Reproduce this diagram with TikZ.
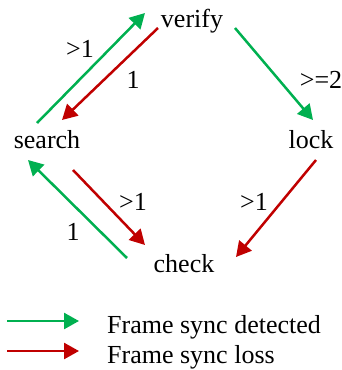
\documentclass[tikz,border=0pt]{standalone}
\usepackage{fontspec}
\setmainfont{Liberation Serif}
\usetikzlibrary{arrows.meta}
\definecolor{okgreen}{HTML}{00B050}
\definecolor{lossred}{HTML}{C00000}
\tikzset{
  lbl/.style={anchor=base,inner sep=0pt,font=\fontsize{26}{30}\selectfont},
  conn/.style={line width=2.5pt,-{Triangle[length=15pt,width=16pt]}},
  det/.style={conn,draw=okgreen,fill=okgreen},
  loss/.style={conn,draw=lossred,fill=lossred}
}
\begin{document}
\begin{tikzpicture}[x=1pt,y=-1pt]
\useasboundingbox (0,0) rectangle (342,370);
% states
\node[lbl] (verify) at (192,27) {verify};
\node[lbl] (search) at (47,148) {search};
\node[lbl] (lock) at (311,148) {lock};
\node[lbl] (check) at (184,272) {check};
% connector ends
\coordinate (sv0) at (37,123); \coordinate (sv1) at (145,13);
\coordinate (vs0) at (158,28); \coordinate (vs1) at (62,120);
\coordinate (vl0) at (235,28); \coordinate (vl1) at (313,120);
\coordinate (lc0) at (316,160); \coordinate (lc1) at (236,257);
\coordinate (sc0) at (73,170); \coordinate (sc1) at (145,245);
\coordinate (cs0) at (127,258); \coordinate (cs1) at (28,160);
\draw[det] (sv0) -- (sv1);
\draw[loss] (vs0) -- (vs1);
\draw[det] (vl0) -- (vl1);
\draw[loss] (lc0) -- (lc1);
\draw[loss] (sc0) -- (sc1);
\draw[det] (cs0) -- (cs1);
% labels
\node[lbl] (l1) at (80,57) {>1};
\node[lbl] (l2) at (133,88) {1};
\node[lbl] (l3) at (321,88) {>=2};
\node[lbl] (l4) at (133,210) {>1};
\node[lbl] (l5) at (254,210) {>1};
\node[lbl] (l6) at (73,240) {1};
% legend
\coordinate (g0) at (7,321); \coordinate (g1) at (79,321);
\coordinate (r0) at (7,351); \coordinate (r1) at (79,351);
\draw[det] (g0) -- (g1);
\draw[loss] (r0) -- (r1);
\node[lbl,anchor=base west] (t1) at (107,333) {Frame sync detected};
\node[lbl,anchor=base west] (t2) at (107,363) {Frame sync loss};
\end{tikzpicture}
\end{document}
